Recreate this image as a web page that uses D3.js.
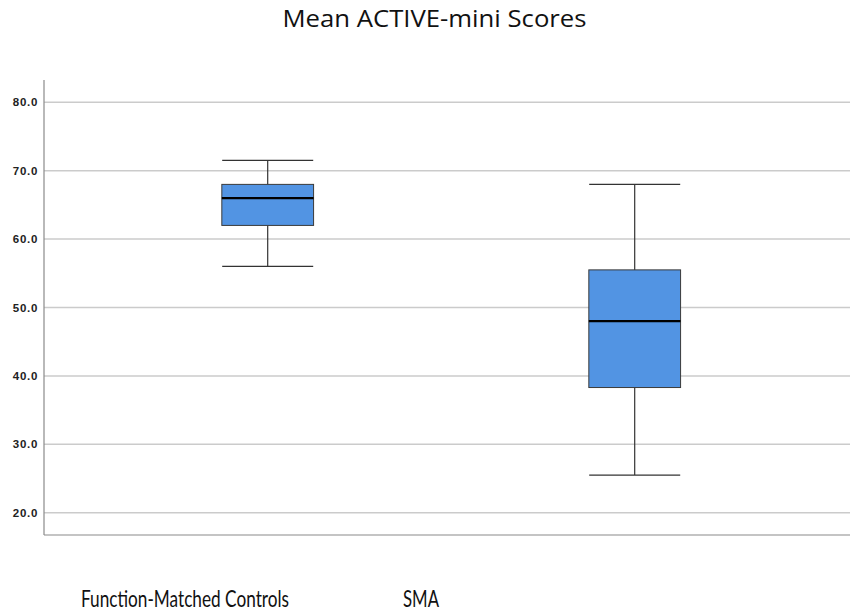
<!DOCTYPE html>
<html><head><meta charset="utf-8">
<script src="https://cdn.jsdelivr.net/npm/d3@7"></script>
<style>html,body{margin:0;padding:0;background:#fff;}svg{display:block;}</style>
</head><body>
<script>
const title = "Mean ACTIVE-mini Scores";
const categories = ["Function-Matched Controls", "SMA"];
const whiskerLow = [56.0, 25.5];
const q1 = [62.0, 38.3];
const median = [66.0, 48.0];
const q3 = [68.0, 55.5];
const whiskerHigh = [71.5, 68.0];
const yTicks = [20, 30, 40, 50, 60, 70, 80];

const W = 850, H = 615;
const svg = d3.select("body").append("svg").attr("width", W).attr("height", H);

const y = d3.scaleLinear().domain([20, 80]).range([512.7, 102.3]);
const x = d3.scaleBand().domain(categories).range([84.2, 818.2]).padding(0);
const axisX = 44, axisBottom = 535, axisTop = 80;

// gridlines
svg.append("g").selectAll("line").data(yTicks).join("line")
  .attr("x1", axisX).attr("x2", W)
  .attr("y1", d => y(d)).attr("y2", d => y(d))
  .attr("stroke", "#cbcbcb").attr("stroke-width", 1.5);

// y axis via d3
const yAxis = svg.append("g").attr("transform", `translate(${axisX},0)`)
  .call(d3.axisLeft(y).tickValues(yTicks).tickSize(0).tickPadding(6).tickFormat(d3.format(".1f")));
yAxis.select(".domain").remove();
yAxis.selectAll("text").attr("font-family", "Liberation Sans, Arial, sans-serif")
  .attr("font-weight", "bold").attr("font-size", 11.5).attr("letter-spacing", 0.7).attr("fill", "#222");

// axis lines
svg.append("line").attr("x1", axisX).attr("x2", axisX).attr("y1", axisTop).attr("y2", axisBottom)
  .attr("stroke", "#8a8a8a").attr("stroke-width", 1.2);
svg.append("line").attr("x1", axisX).attr("x2", W).attr("y1", axisBottom).attr("y2", axisBottom)
  .attr("stroke", "#8a8a8a").attr("stroke-width", 1.2);

const boxW = x.bandwidth() * 0.25;
const capW = x.bandwidth() * 0.124;
const g = svg.append("g").selectAll("g").data(categories).join("g");
const cx = (d) => x(d) + x.bandwidth() / 2;

g.append("line").attr("x1", cx).attr("x2", cx)
  .attr("y1", (d, i) => y(whiskerHigh[i])).attr("y2", (d, i) => y(q3[i]))
  .attr("stroke", "#333").attr("stroke-width", 1.2);
g.append("line").attr("x1", cx).attr("x2", cx)
  .attr("y1", (d, i) => y(q1[i])).attr("y2", (d, i) => y(whiskerLow[i]))
  .attr("stroke", "#333").attr("stroke-width", 1.2);
g.append("line").attr("x1", d => cx(d) - capW).attr("x2", d => cx(d) + capW)
  .attr("y1", (d, i) => y(whiskerHigh[i])).attr("y2", (d, i) => y(whiskerHigh[i]))
  .attr("stroke", "#333").attr("stroke-width", 1.2);
g.append("line").attr("x1", d => cx(d) - capW).attr("x2", d => cx(d) + capW)
  .attr("y1", (d, i) => y(whiskerLow[i])).attr("y2", (d, i) => y(whiskerLow[i]))
  .attr("stroke", "#333").attr("stroke-width", 1.2);
g.append("rect").attr("x", d => cx(d) - boxW / 2).attr("width", boxW)
  .attr("y", (d, i) => y(q3[i])).attr("height", (d, i) => y(q1[i]) - y(q3[i]))
  .attr("fill", "#5294e3").attr("stroke", "#3a3a3a").attr("stroke-width", 1);
g.append("line").attr("x1", d => cx(d) - boxW / 2).attr("x2", d => cx(d) + boxW / 2)
  .attr("y1", (d, i) => y(median[i])).attr("y2", (d, i) => y(median[i]))
  .attr("stroke", "#000").attr("stroke-width", 2.2);

// title
svg.append("text").attr("x", 434.5).attr("y", 26.7).attr("text-anchor", "middle")
  .attr("font-family", "'Open Sans', Lato, sans-serif").attr("font-size", 24).attr("fill", "#111")
  .attr("textLength", 304).attr("lengthAdjust", "spacingAndGlyphs")
  .text(title);

// category labels (placed below)
const labelX = [185, 421];
const labelW = [208, 36];
svg.append("g").selectAll("text").data(categories).join("text")
  .attr("x", (d, i) => labelX[i]).attr("y", 607).attr("text-anchor", "middle")
  .attr("font-family", "Lato, 'Open Sans', sans-serif").attr("font-size", 23).attr("fill", "#111")
  .attr("textLength", (d, i) => labelW[i]).attr("lengthAdjust", "spacingAndGlyphs")
  .text(d => d);
</script>
</body></html>
